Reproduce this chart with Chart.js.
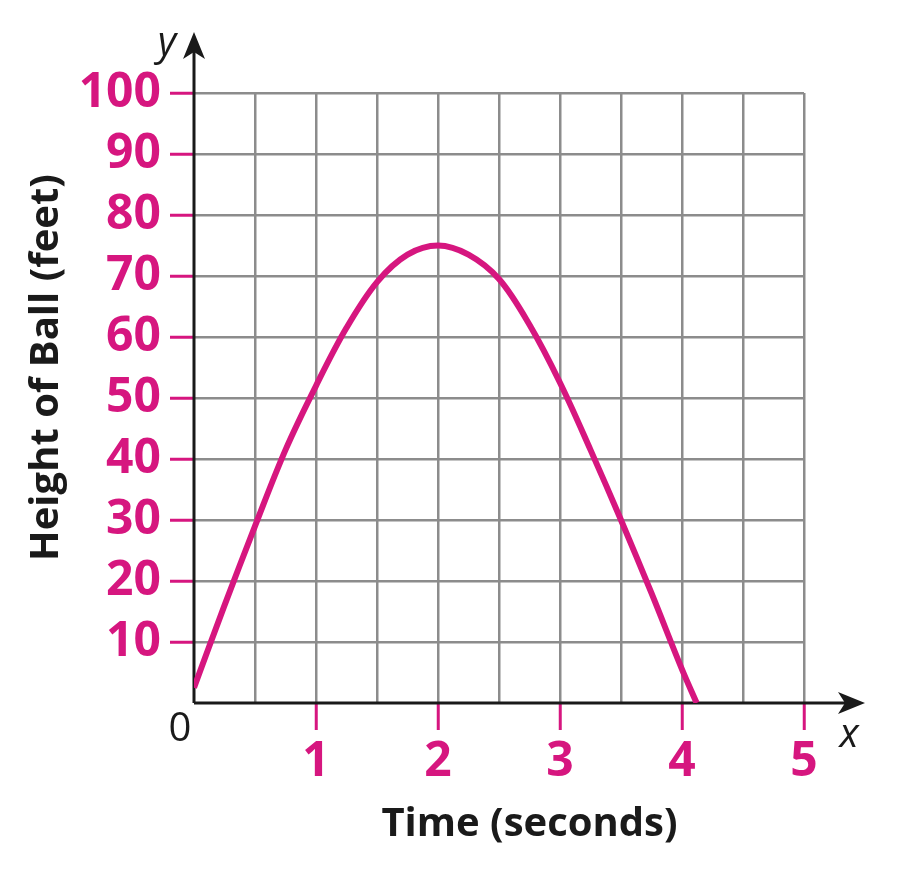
<!DOCTYPE html>
<html>
<head>
<meta charset="utf-8">
<title>Height of Ball</title>
<script src="https://cdn.jsdelivr.net/npm/chart.js@4.4.1/dist/chart.umd.min.js"></script>
<style>
  html, body { margin: 0; padding: 0; background: #fff; }
  #wrap { width: 912px; height: 890px; }
</style>
</head>
<body>
<div id="wrap"><canvas id="ballChart" width="912" height="890"></canvas></div>
<script>
// === DATA ===
const TIMES   = [0, 0.25, 0.5, 0.75, 1, 1.25, 1.5, 1.75, 2, 2.25, 2.5, 2.75, 3, 3.25, 3.5, 3.75, 4, 4.12];
const HEIGHTS = [2.5, 16, 29, 41.5, 52, 61.5, 69, 73.5, 75, 73.5, 69.5, 62, 52.5, 41.5, 30, 18, 5.5, 0];
const X_TICKS = [1, 2, 3, 4, 5];
const Y_TICKS = [10, 20, 30, 40, 50, 60, 70, 80, 90, 100];
const X_MAX = 5, Y_MAX = 100;
const X_ARROW = 5.5, Y_ARROW = 110;   // where the axis arrows end

const MAGENTA = '#d6167f';
const GRID = '#8c8c8c';
const FONT = '"Open Sans", "Noto Sans", sans-serif';

// axes, arrows and loose labels
const axisPlugin = {
    id: 'axisPlugin',
    beforeDatasetsDraw(chart) {
        const { ctx, scales: { x, y } } = chart;
        const ox = x.getPixelForValue(0), oy = y.getPixelForValue(0);
        const tx = x.getPixelForValue(X_ARROW), ty = y.getPixelForValue(Y_ARROW);
        ctx.save();
        ctx.strokeStyle = '#1a1a1a';
        ctx.fillStyle = '#1a1a1a';
        ctx.lineWidth = 3;
        ctx.beginPath();
        ctx.moveTo(ox, oy); ctx.lineTo(tx - 10, oy);
        ctx.moveTo(ox, oy); ctx.lineTo(ox, ty + 10);
        ctx.stroke();
        // x arrow
        ctx.beginPath();
        ctx.moveTo(tx, oy); ctx.lineTo(tx - 27, oy - 11); ctx.lineTo(tx - 20, oy); ctx.lineTo(tx - 27, oy + 11);
        ctx.closePath(); ctx.fill();
        // y arrow
        ctx.beginPath();
        ctx.moveTo(ox, ty); ctx.lineTo(ox - 11, ty + 27); ctx.lineTo(ox, ty + 20); ctx.lineTo(ox + 11, ty + 27);
        ctx.closePath(); ctx.fill();
        ctx.restore();
    },
    afterDraw(chart) {
        const { ctx, scales: { x, y } } = chart;
        const ox = x.getPixelForValue(0), oy = y.getPixelForValue(0);
        const tx = x.getPixelForValue(X_ARROW), ty = y.getPixelForValue(Y_ARROW);
        ctx.save();
        ctx.fillStyle = '#1a1a1a';
        ctx.textAlign = 'center';
        ctx.textBaseline = 'middle';
        ctx.font = '400 40px ' + FONT;
        ctx.fillText('0', ox - 14, oy + 27);
        ctx.font = 'italic 400 40px ' + FONT;
        ctx.fillText('x', tx - 16, oy + 33);
        ctx.fillText('y', ox - 27, ty + 12);
        // axis titles
        ctx.font = '700 40px ' + FONT;
        ctx.fillText('Time (seconds)', (ox + tx) / 2, oy + 122);
        ctx.translate(ox - 147, (oy + ty) / 2);
        ctx.rotate(-Math.PI / 2);
        ctx.fillText('Height of Ball (feet)', 0, 0);
        ctx.restore();
    }
};

const ctx = document.getElementById('ballChart').getContext('2d');
new Chart(ctx, {
    type: 'scatter',
    data: {
        datasets: [{
            data: TIMES.map((t, i) => ({ x: t, y: HEIGHTS[i] })),
            showLine: true,
            borderColor: MAGENTA,
            borderWidth: 6,
            pointRadius: 0,
            tension: 0.35,
            borderCapStyle: 'butt'
        }]
    },
    options: {
        responsive: false,
        animation: false,
        devicePixelRatio: 1,
        layout: { padding: { top: 93, right: 108, left: 0, bottom: 0 } },
        plugins: { legend: { display: false }, tooltip: { enabled: false } },
        scales: {
            x: {
                type: 'linear', min: 0, max: X_MAX,
                afterFit: s => { s.height = 187; },
                border: { display: false },
                grid: {
                    color: c => c.tick.value === 0 ? 'rgba(0,0,0,0)' : GRID,
                    lineWidth: 2.5,
                    tickLength: 27,
                    tickWidth: 3,
                    tickColor: c => X_TICKS.includes(c.tick.value) ? MAGENTA : 'rgba(0,0,0,0)'
                },
                ticks: {
                    stepSize: 0.5, autoSkip: false, maxRotation: 0, padding: 4,
                    color: MAGENTA,
                    font: { family: FONT, size: 48, weight: '700' },
                    callback: v => X_TICKS.includes(v) ? String(v) : ''
                }
            },
            y: {
                type: 'linear', min: 0, max: Y_MAX,
                afterFit: s => { s.width = 194; },
                border: { display: false },
                grid: {
                    color: c => c.tick.value === 0 ? 'rgba(0,0,0,0)' : GRID,
                    lineWidth: 2.5,
                    tickLength: 24,
                    tickWidth: 3,
                    tickColor: c => Y_TICKS.includes(c.tick.value) ? MAGENTA : 'rgba(0,0,0,0)'
                },
                ticks: {
                    stepSize: 10, autoSkip: false, padding: 9,
                    color: MAGENTA,
                    font: { family: FONT, size: 48, weight: '700' },
                    callback: v => Y_TICKS.includes(v) ? String(v) : ''
                }
            }
        }
    },
    plugins: [axisPlugin]
});
</script>
</body>
</html>
